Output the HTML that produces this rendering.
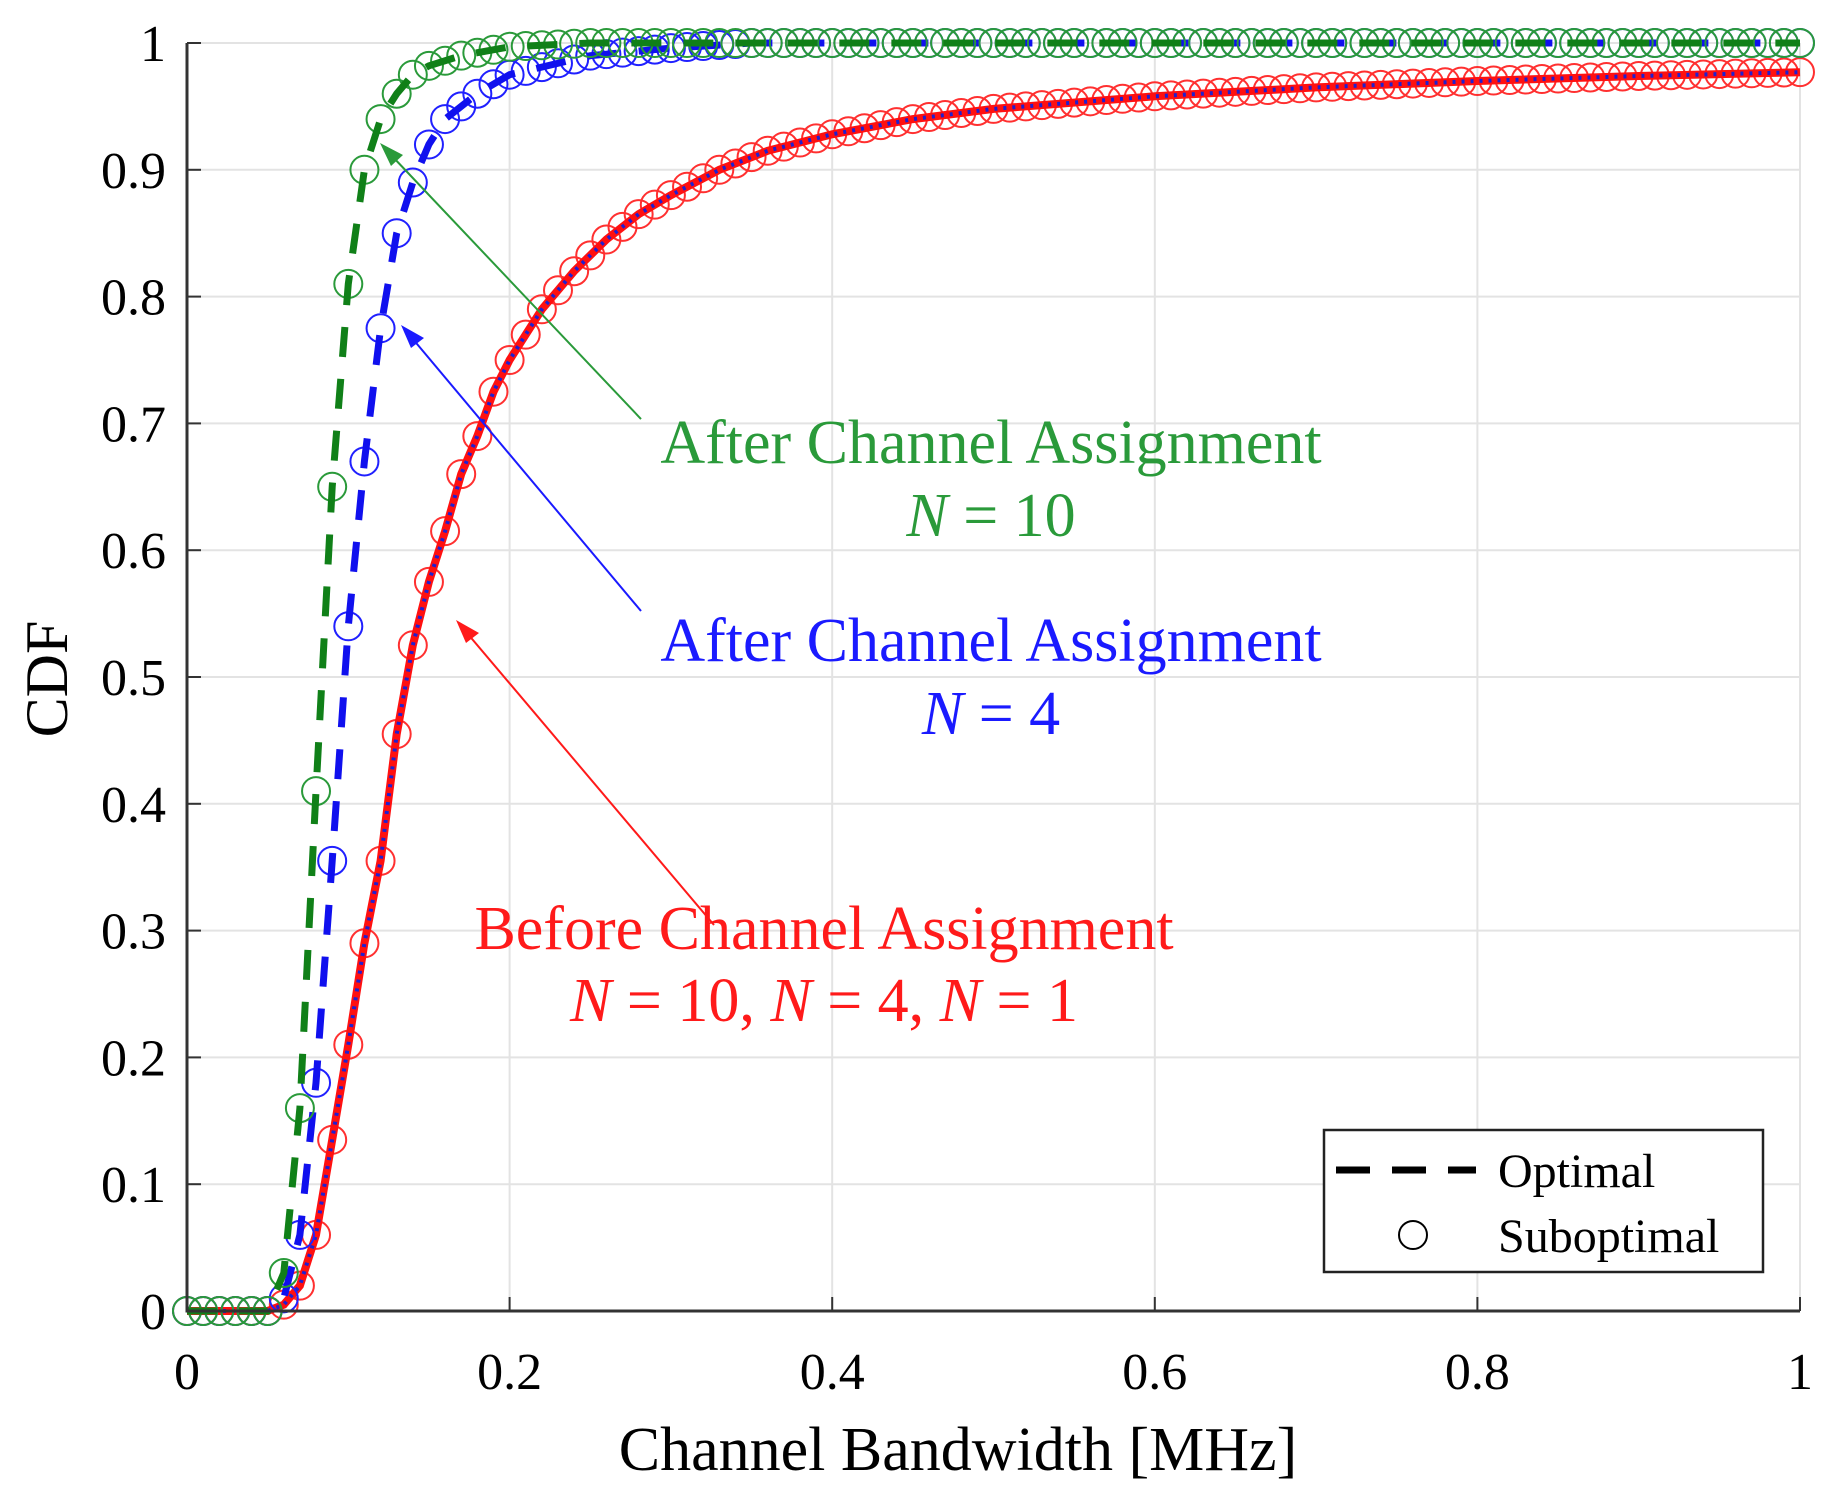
<!DOCTYPE html>
<html><head><meta charset="utf-8"><style>
html,body{margin:0;padding:0;background:#fff;}
svg{display:block;font-family:"Liberation Serif",serif;}
</style></head><body>
<svg id="chart" width="1835" height="1498" viewBox="0 0 1835 1498">
<g id="grid"></g>
<g id="series"></g>
<g id="axes"></g>
<text x="53" y="679" font-size="60" text-anchor="middle" transform="rotate(-90 53 679)" dominant-baseline="middle">CDF</text>
<text x="958" y="1470" font-size="62" text-anchor="middle">Channel Bandwidth [MHz]</text>
<g>
<text x="991" y="463" font-size="62" fill="#2a9a3a" text-anchor="middle">After Channel Assignment</text>
<text x="991" y="536" font-size="62" fill="#2a9a3a" text-anchor="middle"><tspan font-style="italic">N</tspan> = 10</text>
<line x1="641" y1="419" x2="392" y2="156" stroke="#2a9a3a" stroke-width="2"/>
<polygon points="380,143 403,155 391,166" fill="#2a9a3a"/>
</g>
<g>
<text x="991" y="661" font-size="62" fill="#1a1aff" text-anchor="middle">After Channel Assignment</text>
<text x="991" y="734" font-size="62" fill="#1a1aff" text-anchor="middle"><tspan font-style="italic">N</tspan> = 4</text>
<line x1="641" y1="611" x2="412" y2="338" stroke="#1a1aff" stroke-width="2"/>
<polygon points="401,325 424,338 411,348" fill="#1a1aff"/>
</g>
<g>
<text x="824" y="949" font-size="62" fill="#ff1a1a" text-anchor="middle">Before Channel Assignment</text>
<text x="824" y="1021" font-size="62" fill="#ff1a1a" text-anchor="middle"><tspan font-style="italic">N</tspan> = 10, <tspan font-style="italic">N</tspan> = 4, <tspan font-style="italic">N</tspan> = 1</text>
<line x1="714" y1="925" x2="467" y2="633" stroke="#ff1a1a" stroke-width="2"/>
<polygon points="456,620 479,633 466,643" fill="#ff1a1a"/>
</g>
<g>
<rect x="1324" y="1130" width="439" height="142" fill="#fff" stroke="#222" stroke-width="2.5"/>
<line x1="1336" y1="1170" x2="1476" y2="1170" stroke="#000" stroke-width="7" stroke-dasharray="34,22"/>
<text x="1498" y="1187" font-size="48">Optimal</text>
<circle cx="1413" cy="1235" r="14" fill="none" stroke="#000" stroke-width="2"/>
<text x="1498" y="1252" font-size="48">Suboptimal</text>
</g>
</svg>
<script>
const xTicks=[0,0.2,0.4,0.6,0.8,1];
const xTickLabels=["0","0.2","0.4","0.6","0.8","1"];
const yTicks=[0,0.1,0.2,0.3,0.4,0.5,0.6,0.7,0.8,0.9,1];
const yTickLabels=["0","0.1","0.2","0.3","0.4","0.5","0.6","0.7","0.8","0.9","1"];
const greenX=[0,0.05,0.06,0.07,0.08,0.09,0.10,0.11,0.12,0.13,0.14,0.15,0.17,0.2,0.25,1];
const greenY=[0,0,0.03,0.16,0.41,0.65,0.81,0.90,0.94,0.96,0.975,0.982,0.99,0.997,1,1];
const blueX=[0,0.05,0.06,0.07,0.08,0.09,0.10,0.11,0.12,0.13,0.14,0.15,0.16,0.18,0.2,0.25,0.3,0.35,1];
const blueY=[0,0,0.01,0.06,0.18,0.355,0.54,0.67,0.775,0.85,0.89,0.92,0.94,0.96,0.975,0.99,0.996,1,1];
const redX=[0,0.05,0.06,0.07,0.08,0.09,0.10,0.11,0.12,0.13,0.14,0.15,0.16,0.17,0.18,0.19,0.2,0.21,0.22,0.24,0.26,0.28,0.3,0.33,0.36,0.4,0.45,0.5,0.6,0.7,0.8,0.9,1.0];
const redY=[0,0,0.005,0.02,0.06,0.135,0.21,0.29,0.355,0.455,0.525,0.575,0.615,0.66,0.69,0.725,0.75,0.77,0.79,0.82,0.845,0.865,0.88,0.9,0.915,0.928,0.94,0.948,0.958,0.965,0.97,0.974,0.977];

const X0=187,X1=1800,Y0=1311,Y1=43;
const sx=v=>X0+(X1-X0)*v, sy=v=>Y0-(Y0-Y1)*v;
const NS="http://www.w3.org/2000/svg";
function mk(tag,attrs,parent){const e=document.createElementNS(NS,tag);for(const k in attrs)e.setAttribute(k,attrs[k]);parent.appendChild(e);return e;}
const grid=document.getElementById('grid'),axes=document.getElementById('axes'),ser=document.getElementById('series');
xTicks.forEach((t,i)=>{
  const g=mk('line',{x1:sx(t),x2:sx(t),y1:Y1,y2:Y0,stroke:'#e3e3e3','stroke-width':2},grid);
  
  
  const tk=mk('line',{x1:sx(t),x2:sx(t),y1:Y0,y2:Y0-14,stroke:'#333','stroke-width':2},axes);
  
  
  const tx=mk('text',{x:sx(t),y:Y0+78,'font-size':52,'text-anchor':'middle'},axes);
  tx.textContent=xTickLabels[i];
  
  
});
yTicks.forEach((t,i)=>{
  const g=mk('line',{x1:X0,x2:X1,y1:sy(t),y2:sy(t),stroke:'#e3e3e3','stroke-width':2},grid);
  
  
  const tk=mk('line',{x1:X0,x2:X0+14,y1:sy(t),y2:sy(t),stroke:'#333','stroke-width':2},axes);
  
  
  const tx=mk('text',{x:166,y:sy(t)+18,'font-size':52,'text-anchor':'end'},axes);
  tx.textContent=yTickLabels[i];
  
  
});
const ax=mk('path',{d:`M${X0},${Y1} L${X0},${Y0} L${X1},${Y0}`,fill:'none',stroke:'#333','stroke-width':3},axes);



function interp(xs,ys,x){for(let i=1;i<xs.length;i++){if(x<=xs[i]){const t=(x-xs[i-1])/(xs[i]-xs[i-1]);return ys[i-1]+t*(ys[i]-ys[i-1]);}}return ys[ys.length-1];}
function pathOf(xs,ys){return xs.map((x,i)=>(i?'L':'M')+sx(x).toFixed(1)+','+sy(ys[i]).toFixed(1)).join(' ');}
function drawSeries(name,xs,ys,color,dash,width){
  const p=mk('path',{d:pathOf(xs,ys),fill:'none',stroke:color,'stroke-width':width,'stroke-dasharray':dash},ser);
  
  
}
function drawMarkers(name,xs,ys,color){
  const g=mk('g',{},ser);
  
  
  for(let k=0;k<=100;k++){const x=k/100;
    const c=mk('circle',{cx:sx(x),cy:sy(interp(xs,ys,x)),r:14,fill:'none',stroke:color,'stroke-width':2},g);
    
    
  }
}
drawMarkers('red',redX,redY,'#ff3030');
drawSeries('red',redX,redY,'#ff1010','none',8);
drawSeries('red-n4',redX,redY,'#2020d0','3,6',4);
drawMarkers('blue',blueX,blueY,'#2020ff');
drawSeries('blue',blueX,blueY,'#1010ee','30,22',7);
drawMarkers('green',greenX,greenY,'#2a9a3a');
drawSeries('green',greenX,greenY,'#108018','30,22',7);
</script>
</body></html>
